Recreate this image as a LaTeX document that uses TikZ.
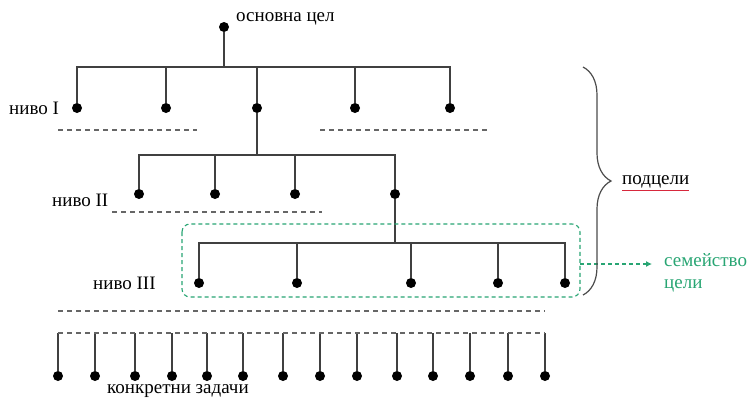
\documentclass[tikz,border=0pt]{standalone}
\usepackage{fontspec}
\setmainfont{Liberation Serif}
\usetikzlibrary{decorations.pathreplacing,arrows.meta}
\definecolor{famgreen}{RGB}{40,165,115}
\definecolor{spellred}{RGB}{215,40,60}
\begin{document}
\begin{tikzpicture}[x=1pt,y=-1pt,
  dot/.style={circle,fill=black,inner sep=0pt,minimum size=10pt},
  tree/.style={line width=1.9pt,draw=black!75},
  sep/.style={dash pattern=on 5pt off 4pt,line width=1.3pt,draw=black!60},
  lbl/.style={font=\fontsize{19}{22}\selectfont,inner sep=0pt,anchor=west},
  famline/.style={draw=famgreen,dash pattern=on 4pt off 3pt,line width=1.1pt}
]
\useasboundingbox (0,0) rectangle (747,399);

% root
\node[dot] (root) at (224,27) {};
\node[lbl] (rootlbl) at (236,19) {основна цел};

% level I
\foreach \x [count=\i] in {77,166,257,355,450} \node[dot] (a\i) at (\x,108) {};
\coordinate (j0) at (224,67);
\draw[tree] (root) -- (j0);
\draw[tree] (a1) |- (j0) -| (a5);
\foreach \i in {2,3,4} \draw[tree] (a\i) -- (a\i |- j0);
\node[lbl] (l1) at (9,108) {ниво I};

% level II
\foreach \x [count=\i] in {139,215,295,395} \node[dot] (c\i) at (\x,194) {};
\coordinate (j1) at (257,155);
\draw[tree] (a3) -- (j1);
\draw[tree] (c1) |- (j1) -| (c4);
\foreach \i in {2,3} \draw[tree] (c\i) -- (c\i |- j1);
\node[lbl] (l2) at (52,200) {ниво II};

% level III
\foreach \x [count=\i] in {199,297,411,498,565} \node[dot] (d\i) at (\x,283) {};
\coordinate (j2) at (395,243);
\draw[tree] (c4) -- (j2);
\draw[tree] (d1) |- (j2) -| (d5);
\foreach \i in {2,3,4} \draw[tree] (d\i) -- (d\i |- j2);
\node[lbl] (l3) at (93,283) {ниво III};

% separators
\draw[sep] (58,130) -- (197,130);
\draw[sep] (320,130) -- (487,130);
\draw[sep] (112,212) -- (322,212);
\draw[sep] (58,311) -- (545,311);

% bottom comb
\foreach \x [count=\i] in {58,95,135,172,207,243,283,320,357,397,433,470,508,545} {
  \node[dot] (e\i) at (\x,376) {};
  \coordinate (t\i) at (\x,333);
  \draw[tree] (e\i) -- (t\i);
}
\draw[sep] (t1) -- (t14);
\node[lbl] (tasks) at (107,391) {конкретни задачи};

% family box
\draw[famline,rounded corners=8pt] (182,224) rectangle (580,297);
\coordinate (fam) at (580,264);
\node[lbl,text=famgreen,align=left] (famlbl) at (664,273) {семейство\\цели};
\draw[famline,-{Latex[length=6pt,width=6pt]}] (fam) -- (652,264);

% brace
\draw[line width=1.2pt,black!70,decorate,decoration={brace,amplitude=28pt}] (583,67) -- (583,295);
\node[lbl] (sub) at (622,182) {подцели};
\draw[spellred,line width=1pt] ([yshift=-2pt]sub.south west) -- ([yshift=-2pt]sub.south east);

\end{tikzpicture}
\end{document}
